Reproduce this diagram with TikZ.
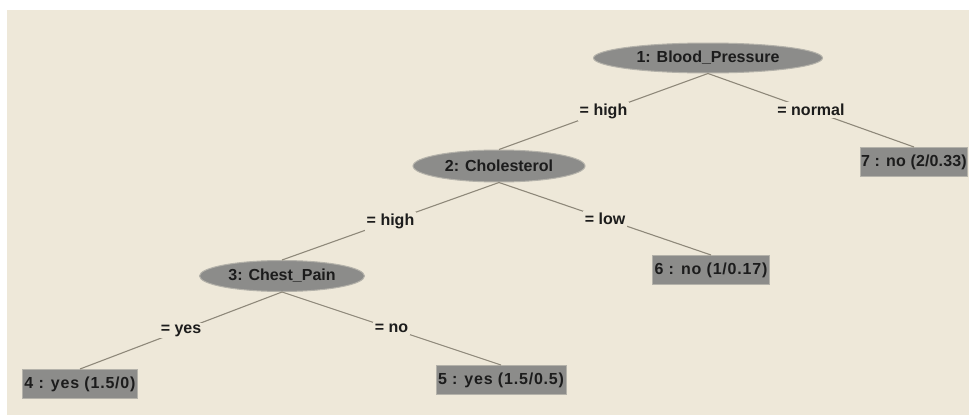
\documentclass[tikz,border=0pt]{standalone}
\usepackage{fontspec}
\setmainfont{Liberation Sans}
\usepackage{tikz}
\usetikzlibrary{shapes.geometric}
\definecolor{paper}{HTML}{EEE8D9}
\definecolor{nodegray}{HTML}{8C8C8A}
\definecolor{rimgray}{HTML}{B4B2AA}
\definecolor{linegray}{HTML}{8E887A}
\definecolor{ink}{HTML}{1C1C1C}

\begin{document}
\begin{tikzpicture}[x=1pt,y=-1pt,
  txt/.style={font=\fontsize{16}{18}\selectfont\bfseries, text=ink},
  split/.style={ellipse, txt, fill=nodegray, draw=rimgray, line width=1pt, inner sep=0pt},
  leaf/.style={rectangle, txt, font=\fontsize{16}{18}\selectfont\bfseries\addfontfeature{LetterSpace=5},
    fill=nodegray, draw=rimgray, line width=1pt, inner xsep=2pt, inner ysep=2.5pt, minimum height=29pt},
  branch/.style={draw=linegray, line width=1.1pt},
  cond/.style={txt, fill=paper, inner sep=2pt}]
\useasboundingbox (0,0) rectangle (969,415);
\fill[paper] (7,10) rectangle (969,415);
\node[split, minimum width=229pt, minimum height=30pt] (bp) at (708,58) {1: Blood\_Pressure};
\node[split, minimum width=172pt, minimum height=32pt] (chol) at (499,166) {2: Cholesterol};
\node[split, minimum width=165pt, minimum height=31pt] (pain) at (282,276) {3: Chest\_Pain};
\node[leaf, font=\fontsize{16}{18}\selectfont\bfseries\addfontfeature{LetterSpace=1}, inner xsep=1pt] (l7) at (914,162) {7 : no (2/0.33)};
\node[leaf] (l6) at (711,270) {6 : no (1/0.17)};
\node[leaf] (l4) at (80,384) {4 : yes (1.5/0)};
\node[leaf] (l5) at (501,380) {5 : yes (1.5/0.5)};
\draw[branch] (bp.south) -- node[cond] {= high} (chol.north);
\draw[branch] (bp.south) -- node[cond] {= normal} (l7.north);
\draw[branch] (chol.south) -- node[cond] {= high} (pain.north);
\draw[branch] (chol.south) -- node[cond] {= low} (l6.north);
\draw[branch] (pain.south) -- node[cond] {= yes} (l4.north);
\draw[branch] (pain.south) -- node[cond] {= no} (l5.north);
\end{tikzpicture}
\end{document}
